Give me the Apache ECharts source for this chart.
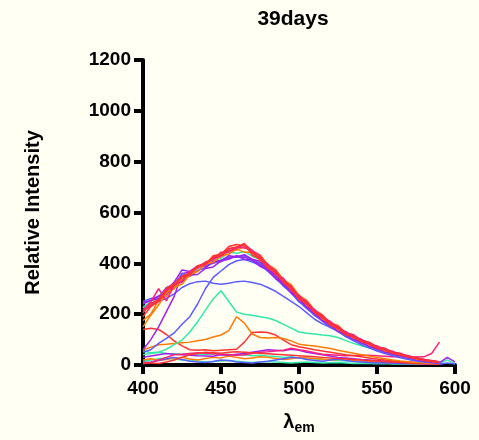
<!DOCTYPE html>
<html><head><meta charset="utf-8">
<script src="https://cdn.jsdelivr.net/npm/echarts@6/dist/echarts.min.js"></script>
<style>html,body{margin:0;padding:0;background:#FFFFF4;}#c{width:479px;height:440px;}</style>
</head><body><div id="c"></div>
<script>
const wavelengths=[400,405,410,415,420,425,430,435,440,445,450,455,460,465,470,475,480,485,490,495,500,505,510,515,520,525,530,535,540,545,550,555,560,565,570,575,580,585,590,595,600];
const xTicks=[400,450,500,550,600];
const yTicks=[0,200,400,600,800,1000,1200];

const tealLow=[55,48,50,45,44,42,45,42,40,44,40,42,38,40,36,38,35,33,30,32,28,26,24,22,20,18,17,15,14,12,10,9,8,7,6,6,5,5,4,null,null];
const tealLow2=[15,20,25,28,24,20,18,15,12,14,16,18,15,12,10,12,14,12,10,8,10,12,10,8,9,10,8,6,7,6,5,6,4,5,4,3,5,4,6,20,5];
const orangeLow=[20,25,18,22,28,30,24,20,26,30,28,35,30,25,28,32,30,26,22,25,30,28,26,24,20,22,25,18,15,14,12,10,8,10,7,6,5,5,4,null,null];
const blueLow=[10,12,18,25,30,22,15,12,10,14,20,18,12,10,8,12,15,20,25,30,28,22,18,15,20,24,18,14,12,10,8,9,7,6,5,6,4,5,3,8,4];
const purpleLow=[30,35,40,45,42,40,38,36,35,34,40,38,42,45,50,55,60,58,56,62,58,50,45,40,35,30,28,25,22,20,18,15,12,10,9,8,6,5,8,30,12];
const pinkLow=[5,10,20,30,40,42,45,48,46,44,42,40,38,40,45,50,52,55,58,66,60,55,48,42,40,38,36,37,38,38,36,34,32,33,30,31,32,45,90,null,null];
const redLow=[10,8,6,12,20,30,40,45,50,48,46,50,52,50,48,46,44,42,40,38,36,34,32,30,28,26,24,22,20,18,16,14,12,10,8,6,5,4,3,null,null];
const redC=[140,145,140,120,95,75,60,58,60,56,58,60,62,90,128,130,128,118,98,80,72,66,60,55,50,45,40,36,32,28,24,20,17,14,12,10,8,6,5,null,null];
const orangeC=[60,70,80,82,85,88,90,95,100,110,118,135,190,165,122,108,106,108,104,95,82,78,75,70,65,58,52,46,40,35,30,25,20,16,13,10,8,6,5,null,null];
const tealB=[40,45,50,62,80,98,130,170,216,260,292,250,208,200,196,190,185,175,160,145,130,125,122,118,115,108,96,85,76,67,60,50,42,35,28,22,17,12,8,null,null];
const blueB=[230,240,250,262,280,305,320,328,330,322,318,322,328,330,325,318,305,290,270,250,230,205,180,162,148,132,112,95,80,68,55,45,36,28,22,16,12,9,6,null,null];
const blueC=[50,60,85,105,126,160,190,240,300,345,370,395,410,415,405,392,370,340,312,282,250,222,196,172,150,131,114,100,87,74,62,51,42,34,27,21,16,11,8,null,null];
const purpleC=[60,100,150,210,270,360,365,380,392,400,412,422,428,424,415,396,375,348,318,290,258,230,204,180,158,138,120,104,90,77,65,54,44,36,29,23,17,12,9,null,null];
const tealA=[225,252,262,298,312,340,352,384,390,415,418,445,440,446,428,415,380,360,320,300,258,240,204,188,158,146,120,112,92,85,68,60,46,42,30,28,18,16,10,null,null];
const blueA=[250,262,268,305,316,360,348,372,382,405,406,424,424,430,410,402,368,350,310,288,248,230,194,178,148,136,112,104,85,78,60,55,40,37,26,24,15,13,8,null,null];
const purpleA=[240,255,262,295,326,374,368,390,386,408,410,430,426,434,416,408,376,355,316,295,256,238,200,185,154,142,116,110,88,82,63,59,43,40,28,26,17,14,9,null,null];
const purpleB=[245,254,272,276,314,326,354,356,380,386,410,416,430,416,414,388,374,340,322,284,262,226,206,174,160,132,122,100,93,73,67,51,46,34,31,20,18,11,8,null,null];
const orangeA=[150,196,236,286,300,336,350,384,394,418,426,450,452,466,446,434,396,376,336,316,274,254,216,198,166,156,126,118,97,90,71,65,48,44,32,29,20,16,11,null,null];
const orangeB=[175,200,255,270,306,318,356,368,398,404,430,436,456,444,445,412,395,356,338,294,275,235,217,181,168,139,130,106,99,79,73,56,50,38,34,24,21,14,10,null,null];
const pinkA=[215,248,300,252,316,330,368,384,405,414,444,444,464,460,452,415,397,356,342,296,274,238,218,184,172,142,131,109,101,82,75,59,54,40,37,27,23,15,12,null,null];
const pinkB=[210,234,254,294,314,350,354,390,400,420,428,455,458,476,450,430,390,372,330,310,268,250,214,195,166,152,126,119,97,89,71,66,50,46,34,30,21,18,13,null,null];
const redA=[205,242,258,302,320,348,362,390,398,426,432,458,464,478,432,418,382,362,324,300,258,242,204,188,156,145,118,112,91,83,65,60,45,41,30,27,18,16,11,null,null];
const redB=[190,230,250,290,314,344,356,386,394,430,436,466,474,468,440,424,388,366,330,306,264,246,208,192,161,149,122,114,93,86,67,63,48,43,32,29,20,17,12,null,null];

const RED='#FF3333',PINK='#FF1F7A',ORANGE='#FF7A00',PURPLE='#A020F0',BLUE='#5B5BFF',TEAL='#33E8A8';
const seriesDefs=[
 [tealLow,TEAL],[tealLow2,TEAL],[orangeLow,ORANGE],[blueLow,BLUE],[purpleLow,PURPLE],[pinkLow,PINK],[redLow,RED],
 [redC,RED],[orangeC,ORANGE],[tealB,TEAL],[blueB,BLUE],[blueC,BLUE],[purpleC,PURPLE],
 [tealA,TEAL],[blueA,BLUE],[purpleA,PURPLE],[purpleB,PURPLE],[orangeA,ORANGE],[orangeB,ORANGE],
 [pinkA,PINK],[pinkB,PINK],[redA,RED],[redB,RED]
];
const chart=echarts.init(document.getElementById('c'));
const bold={color:'#000',fontWeight:'bold',fontFamily:'Liberation Sans, Arial, sans-serif'};
chart.setOption({
 backgroundColor:'#FFFFF4',
 animation:false,
 title:{text:'39days',left:288,top:4,textAlign:'center',textStyle:Object.assign({fontSize:21},bold)},
 grid:{left:143,right:24,top:60,bottom:75,containLabel:false,outerBoundsMode:'none'},
 xAxis:{type:'value',min:xTicks[0],max:xTicks[xTicks.length-1],interval:50,
  axisLine:{lineStyle:{color:'#000',width:4}},
  axisTick:{length:9,lineStyle:{color:'#000',width:4}},
  axisLabel:Object.assign({fontSize:19,margin:14},bold),
  splitLine:{show:false},
  name:'{l|λ}{s|em}',nameLocation:'middle',nameGap:45,
  nameTextStyle:{rich:{l:Object.assign({fontSize:20},bold),s:Object.assign({fontSize:14,padding:[11,0,0,0]},bold)}}},
 yAxis:{type:'value',min:yTicks[0],max:yTicks[yTicks.length-1],interval:200,
  axisLine:{show:true,lineStyle:{color:'#000',width:4}},
  axisTick:{show:true,length:9,lineStyle:{color:'#000',width:4}},
  axisLabel:Object.assign({fontSize:19,margin:12,formatter:v=>String(v)},bold),
  splitLine:{show:false},
  name:'Relative Intensity',nameLocation:'middle',nameGap:100,
  nameTextStyle:Object.assign({fontSize:20},bold)},
 series:seriesDefs.map(([arr,col])=>({type:'line',symbol:'none',silent:true,
  lineStyle:{color:col,width:1.5},itemStyle:{color:col},
  data:wavelengths.map((w,i)=>[w,arr[i]])}))
});
</script></body></html>
